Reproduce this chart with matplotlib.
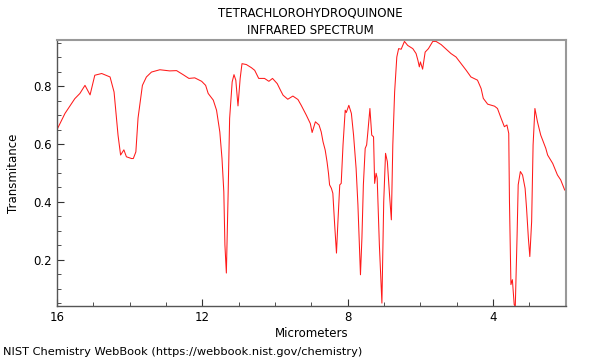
import matplotlib
matplotlib.use("Agg")
import matplotlib.pyplot as plt
from matplotlib.ticker import MultipleLocator

wavelength_um = [
    15.98, 15.78, 15.51, 15.37, 15.23, 15.09, 14.96, 14.77, 14.54, 14.43, 14.32, 14.25,
    14.16, 14.09, 13.95, 13.90, 13.83, 13.77, 13.65, 13.54, 13.40, 13.17, 12.90, 12.71,
    12.53, 12.37, 12.21, 12.02, 11.91, 11.84, 11.70, 11.61, 11.52, 11.46, 11.41, 11.38,
    11.34, 11.29, 11.25, 11.18, 11.13, 11.08, 11.02, 10.96, 10.91, 10.79, 10.65, 10.56,
    10.45, 10.29, 10.17, 10.07, 9.94, 9.85, 9.78, 9.65, 9.51, 9.37, 9.28, 9.14,
    9.03, 8.98, 8.89, 8.79, 8.73, 8.68, 8.62, 8.57, 8.53, 8.50, 8.45, 8.41,
    8.36, 8.31, 8.27, 8.22, 8.18, 8.13, 8.07, 8.04, 7.97, 7.90, 7.84, 7.77,
    7.72, 7.65, 7.61, 7.57, 7.52, 7.48, 7.45, 7.39, 7.34, 7.29, 7.26, 7.22,
    7.19, 7.13, 7.06, 7.01, 6.96, 6.91, 6.85, 6.80, 6.76, 6.71, 6.65, 6.60,
    6.53, 6.44, 6.35, 6.21, 6.12, 6.07, 6.03, 6.00, 5.94, 5.87, 5.78, 5.66,
    5.57, 5.43, 5.29, 5.16, 5.02, 4.88, 4.74, 4.61, 4.43, 4.33, 4.27, 4.15,
    3.96, 3.88, 3.78, 3.69, 3.62, 3.57, 3.55, 3.51, 3.47, 3.42, 3.39, 3.34,
    3.31, 3.25, 3.19, 3.12, 3.08, 3.03, 2.99, 2.94, 2.90, 2.85, 2.78, 2.69,
    2.55, 2.50, 2.36, 2.23, 2.14, 2.03,
]
transmittance = [
    0.655, 0.706, 0.757, 0.775, 0.803, 0.770, 0.838, 0.844, 0.832, 0.780, 0.630, 0.562,
    0.580, 0.556, 0.550, 0.550, 0.573, 0.690, 0.803, 0.832, 0.849, 0.857, 0.853, 0.854,
    0.840, 0.827, 0.829, 0.817, 0.803, 0.775, 0.752, 0.717, 0.642, 0.550, 0.435, 0.252,
    0.154, 0.435, 0.689, 0.815, 0.840, 0.821, 0.732, 0.827, 0.878, 0.875, 0.864, 0.855,
    0.827, 0.827, 0.817, 0.827, 0.809, 0.786, 0.769, 0.755, 0.766, 0.754, 0.734, 0.700,
    0.671, 0.640, 0.677, 0.666, 0.642, 0.608, 0.579, 0.539, 0.499, 0.459, 0.447, 0.430,
    0.321, 0.223, 0.332, 0.459, 0.464, 0.597, 0.717, 0.709, 0.734, 0.706, 0.631, 0.516,
    0.390, 0.148, 0.275, 0.459, 0.585, 0.597, 0.637, 0.723, 0.631, 0.625, 0.464, 0.499,
    0.482, 0.252, 0.050, 0.401, 0.568, 0.539, 0.424, 0.338, 0.597, 0.780, 0.901, 0.930,
    0.928, 0.955, 0.941, 0.930, 0.913, 0.890, 0.867, 0.884, 0.859, 0.918, 0.930, 0.955,
    0.955, 0.944, 0.928, 0.913, 0.901, 0.878, 0.855, 0.832, 0.821, 0.792, 0.758, 0.738,
    0.731, 0.723, 0.689, 0.660, 0.666, 0.637, 0.401, 0.114, 0.131, 0.045, 0.038, 0.286,
    0.459, 0.505, 0.493, 0.447, 0.378, 0.275, 0.211, 0.332, 0.597, 0.723, 0.677, 0.631,
    0.585, 0.562, 0.533, 0.493, 0.476, 0.441,
]

title_text = "TETRACHLOROHYDROQUINONE\nINFRARED SPECTRUM"
x_label = "Micrometers"
y_label = "Transmitance"
footer = "NIST Chemistry WebBook (https://webbook.nist.gov/chemistry)"

fig = plt.figure(figsize=(6, 3.6), dpi=100)
ax = fig.add_axes([0.095, 0.15, 0.848, 0.739])
ax.plot(wavelength_um, transmittance, color="#ff1a1a", lw=0.75)
ax.set_xlim(16, 2)
ax.set_ylim(0.04, 0.96)

ax.xaxis.set_major_locator(MultipleLocator(4))
ax.xaxis.set_minor_locator(MultipleLocator(1))
ax.yaxis.set_major_locator(MultipleLocator(0.2))
ax.yaxis.set_minor_locator(MultipleLocator(0.05))
ax.tick_params(which="both", direction="in", labelsize=8.5, colors="#333333",
               labelcolor="black")
ax.tick_params(which="major", length=5)
ax.tick_params(which="minor", length=3)
ax.set_xticks([16, 12, 8, 4])
ax.set_xticklabels(["16", "12", "8", "4"])
ax.set_yticks([0.2, 0.4, 0.6, 0.8])
ax.set_yticklabels(["0.2", "0.4", "0.6", "0.8"])

for side in ["top", "right"]:
    ax.spines[side].set_color("#999999")
    ax.spines[side].set_linewidth(1.5)
for side in ["left", "bottom"]:
    ax.spines[side].set_color("#555555")
    ax.spines[side].set_linewidth(1.0)

ax.set_xlabel(x_label, fontsize=8.5, labelpad=2)
ax.set_ylabel(y_label, fontsize=8.5, labelpad=10)
fig.text(0.518, 0.94, title_text, ha="center", va="center", fontsize=8.5,
         linespacing=1.5)
fig.text(0.005, 0.022, footer, ha="left", va="center", fontsize=8.2)

fig.savefig("out.png", dpi=100)
